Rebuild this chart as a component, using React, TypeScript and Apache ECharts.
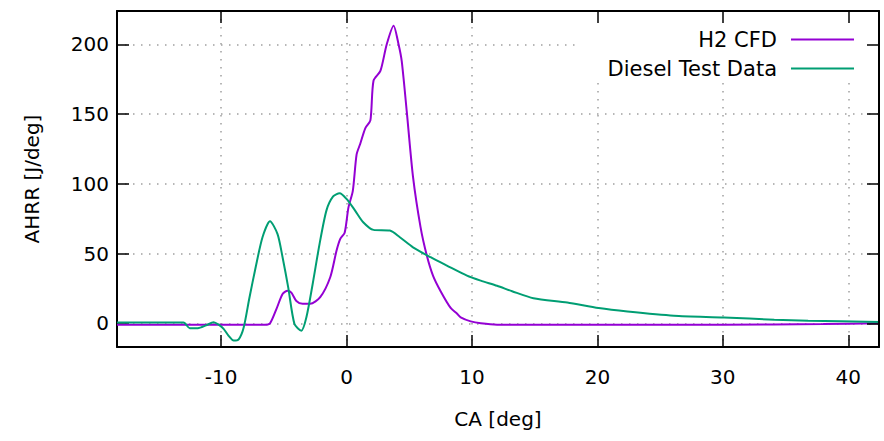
import React, { useEffect, useRef } from "react";
import * as echarts from "echarts";

const xTicks = [-10, 0, 10, 20, 30, 40];
const yTicks = [0, 50, 100, 150, 200];

const seriesNames = ["H2 CFD", "Diesel Test Data"];

const h2Ca = [
  -18.3, -10, -6.5, -6.1, -5.6, -5.1, -4.7, -4.4, -4.0, -3.5, -2.9, -2.1, -1.3, -0.8, -0.5, -0.15,
  0.15, 0.5, 0.8, 1.1, 1.5, 1.9, 2.15, 2.7, 3.2, 3.75, 4.15, 4.4, 4.8, 5.3, 5.9, 6.4, 6.9, 7.5,
  8.3, 8.8, 9.1, 9.9, 10.7, 12, 20, 30, 38, 42.45,
];
const h2Hrr = [
  -1, -1, -1, 0, 10, 21, 23.4, 22, 16, 14, 14, 18.7, 33, 52, 60.5, 65,
  83, 95, 121, 129, 140, 145.5, 174, 181, 200, 213.5, 200, 188, 152, 105, 69, 48.6, 34, 23,
  11, 7, 4.3, 1.4, 0, -1, -1, -1, -0.5, 0,
];

const dieselCa = [
  -18.3, -13.0, -12.5, -11.85, -11.2, -10.6, -10.2, -9.8, -9.4, -9.0, -8.6, -8.2, -7.75, -7.25,
  -6.7, -6.1, -5.5, -5.1, -4.65, -4.15, -3.6, -3.2, -2.7, -2.15, -1.6, -1.07, -0.55, 0, 0.67,
  1.33, 2.15, 3.45, 4.25, 5.3, 6.7, 8, 9.6, 10.7, 12, 13.2, 14.9, 17.6, 20.1, 22.4, 26.1, 30.1,
  34.1, 36.8, 42.45,
];
const dieselHrr = [
  0.5, 0.5, -3.5, -3.5, -1.5, 0.7, -1, -4, -9, -12.4, -11.5, -3, 18, 40,
  61.7, 73.2, 64, 47.4, 25.8, -0.5, -5.3, 4.3, 28.2, 57, 81, 91, 93.3, 89.2, 81,
  72.5, 67, 66.5, 61.7, 54.5, 47.4, 41.4, 34.2, 30.6, 26.9, 23, 18, 14.9, 10.9, 8.4, 5.4, 4.2,
  2.6, 1.9, 1.0,
];

const xMin = -18.3;
const xMax = 42.45;
const yMin = -17;
const yMax = 224;

const FONT = "DejaVu Sans";

export default function App() {
  const ref = useRef<HTMLDivElement>(null);

  useEffect(() => {
    if (!ref.current) return;
    const chart = echarts.init(ref.current, undefined, { renderer: "svg" });

    const gridLine = {
      show: true,
      lineStyle: { color: "#a0a0a0", width: 1.5, type: [1.5, 6.5] as any },
    };
    const axisLine = { show: true, onZero: false, lineStyle: { color: "#000", width: 2 } };
    const tick = (vals: number[]) => ({
      show: true,
      inside: true,
      length: 12,
      customValues: vals,
      lineStyle: { color: "#000", width: 1.5 },
    });

    chart.setOption({
      animation: false,
      backgroundColor: "#fff",
      textStyle: { fontFamily: FONT },
      grid: { left: 117, right: 5, top: 11, bottom: 94, containLabel: false },
      legend: {
        data: seriesNames,
        orient: "vertical",
        right: 5,
        top: 12,
        padding: [17, 25, 3, 27],
        align: "right",
        itemWidth: 63,
        itemHeight: 2,
        itemGap: 8,
        backgroundColor: "#fff",
        z: 1,
        icon: "rect",
        textStyle: {
          fontFamily: FONT,
          fontSize: 21,
          color: "#000",
          lineHeight: 20,
          padding: [0, 9, 0, 0],
        },
      },
      xAxis: [
        {
          type: "value",
          min: xMin,
          max: xMax,
          position: "bottom",
          z: 0,
          axisLine,
          axisTick: tick(xTicks),
          axisLabel: {
            customValues: xTicks,
            margin: 20,
            fontFamily: FONT,
            fontSize: 20,
            color: "#000",
          },
          splitLine: gridLine,
          name: "CA [deg]",
          nameLocation: "middle",
          nameGap: 62,
          nameTextStyle: { fontFamily: FONT, fontSize: 20, color: "#000" },
        },
        {
          type: "value",
          min: xMin,
          max: xMax,
          position: "top",
          z: 5,
          axisLine,
          axisTick: tick(xTicks),
          axisLabel: { show: false },
          splitLine: { show: false },
        },
      ],
      yAxis: [
        {
          type: "value",
          min: yMin,
          max: yMax,
          position: "left",
          z: 0,
          axisLine,
          axisTick: tick(yTicks),
          axisLabel: {
            customValues: yTicks,
            margin: 8,
            fontFamily: FONT,
            fontSize: 20,
            color: "#000",
          },
          splitLine: gridLine,
          name: "AHRR [J/deg]",
          nameLocation: "middle",
          nameGap: 75,
          nameTextStyle: { fontFamily: FONT, fontSize: 20, color: "#000" },
        },
        {
          type: "value",
          min: yMin,
          max: yMax,
          position: "right",
          z: 5,
          axisLine,
          axisTick: tick(yTicks),
          axisLabel: { show: false },
          splitLine: { show: false },
        },
      ],
      series: [
        {
          name: seriesNames[0],
          type: "line",
          xAxisIndex: 0,
          yAxisIndex: 0,
          data: h2Ca.map((x, i) => [x, h2Hrr[i]]),
          showSymbol: false,
          smooth: 0.25,
          z: 3,
          color: "#9400d3",
          lineStyle: { color: "#9400d3", width: 2 },
        },
        {
          name: seriesNames[1],
          type: "line",
          xAxisIndex: 0,
          yAxisIndex: 0,
          data: dieselCa.map((x, i) => [x, dieselHrr[i]]),
          showSymbol: false,
          smooth: 0.25,
          z: 3,
          color: "#009e73",
          lineStyle: { color: "#009e73", width: 2 },
        },
      ],
    });

    return () => chart.dispose();
  }, []);

  return (
    <div
      ref={ref}
      style={{ position: "absolute", left: 0, top: 0, width: 884, height: 441 }}
    />
  );
}
